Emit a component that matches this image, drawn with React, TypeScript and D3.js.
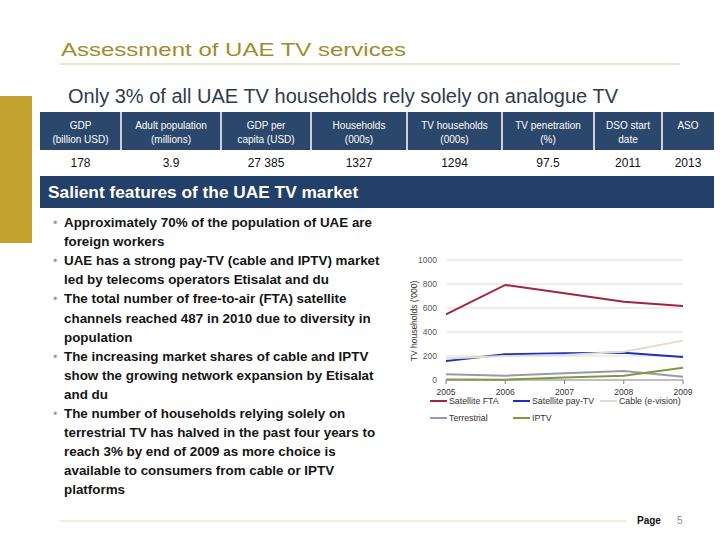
import React from "react";
import * as d3 from "d3";

const years = [2005, 2006, 2007, 2008, 2009];
const satelliteFTA = [547, 792, 722, 653, 617];
const satellitePayTV = [158, 214, 222, 228, 192];
const cable = [180, 200, 208, 236, 328];
const terrestrial = [47, 36, 56, 75, 28];
const iptv = [5, 3, 20, 36, 103];
const yTicks = [0, 200, 400, 600, 800, 1000];

const seriesNames = ["Satellite FTA", "Satellite pay-TV", "Cable (e-vision)", "Terrestrial", "IPTV"];
const seriesValues = [satelliteFTA, satellitePayTV, cable, terrestrial, iptv];
const seriesColors = ["#a3243b", "#1c2fc4", "#e4dccb", "#9a98ae", "#7f9a3c"];

const tableHeaders = [
  ["GDP", "(billion USD)"],
  ["Adult population", "(millions)"],
  ["GDP per", "capita (USD)"],
  ["Households", "(000s)"],
  ["TV households", "(000s)"],
  ["TV penetration", "(%)"],
  ["DSO start", "date"],
  ["ASO"],
];
const tableValues = ["178", "3.9", "27 385", "1327", "1294", "97.5", "2011", "2013"];
const colEdges = [40, 121, 221, 311, 407, 502, 594, 662, 714];

const bullets = [
  ["Approximately 70% of the population of UAE are", "foreign workers"],
  ["UAE has a strong pay-TV (cable and IPTV) market", "led by telecoms operators Etisalat and du"],
  ["The total number of free-to-air (FTA) satellite", "channels reached 487 in 2010 due to diversity in", "population"],
  ["The increasing market shares of cable and IPTV", "show the growing network expansion by Etisalat", "and du"],
  ["The number of households relying solely on", "terrestrial TV has halved in the past four years to", "reach 3% by end of 2009 as more choice is", "available to consumers from cable or IPTV", "platforms"],
];

const bodyFont = "'Liberation Sans', Arial, sans-serif";

export default function App() {
  const x = d3.scaleLinear().domain([2005, 2009]).range([446, 683]);
  const y = d3.scaleLinear().domain([0, 1000]).range([380, 260]);
  const line = d3.line<number>().x((_, i) => x(years[i])).y((v) => y(v));

  let lineNo = 0;
  const bulletEls: React.ReactNode[] = [];
  bullets.forEach((b, bi) => {
    b.forEach((t, li) => {
      const yy = 227 + lineNo * 19.1;
      if (li === 0)
        bulletEls.push(
          <text key={`b${bi}`} x={53} y={yy} fontSize={12} fill="#8fa6b8">•</text>
        );
      bulletEls.push(
        <text key={`t${bi}-${li}`} x={64} y={yy} fontSize={13.4} fontWeight="bold" fill="#151515" fontFamily={bodyFont}>
          {t}
        </text>
      );
      lineNo++;
    });
  });

  const legendPos = [
    [430, 401], [513, 401], [600, 401], [430, 418], [513, 418],
  ];

  return (
    <svg width={720} height={540} style={{ position: "absolute", left: 0, top: 0, background: "#fff" }} fontFamily={bodyFont}>
      <rect x={0} y={0} width={720} height={540} fill="#fff" />
      {/* Title */}
      <text x={61} y={56} fontSize={19} fill="#a08c2c" textLength={345} lengthAdjust="spacingAndGlyphs">Assessment of UAE TV services</text>
      <line x1={60} x2={680} y1={64} y2={64} stroke="#d8cc9c" strokeWidth={1} />
      <text x={68} y={103} fontSize={19.5} fill="#2f3b4c" textLength={550} lengthAdjust="spacingAndGlyphs">Only 3% of all UAE TV households rely solely on analogue TV</text>
      <rect x={0} y={96} width={32} height={147} fill="#c4a22f" />

      {/* Table */}
      <rect x={40} y={112} width={674} height={38} fill="#2c476c" />
      {colEdges.slice(1, -1).map((e) => (
        <line key={e} x1={e} x2={e} y1={112} y2={150} stroke="#fff" strokeWidth={1.5} />
      ))}
      {tableHeaders.map((h, i) => {
        const cx = (colEdges[i] + colEdges[i + 1]) / 2;
        return h.map((t, j) => (
          <text key={`h${i}-${j}`} x={cx} y={h.length === 1 ? 129 : 129 + j * 14} fontSize={10} fill="#fff" textAnchor="middle">
            {t}
          </text>
        ));
      })}
      {tableValues.map((v, i) => (
        <text key={`v${i}`} x={(colEdges[i] + colEdges[i + 1]) / 2} y={167} fontSize={12} fill="#111" textAnchor="middle">
          {v}
        </text>
      ))}
      <rect x={40} y={176} width={674} height={32} fill="#22406a" />
      <text x={48} y={198} fontSize={17.3} fontWeight="bold" fill="#fff">Salient features of the UAE TV market</text>

      {bulletEls}

      {/* Chart */}
      {yTicks.map((t) => (
        <g key={t}>
          {t > 0 && <line x1={446} x2={683} y1={y(t)} y2={y(t)} stroke="#dcdcdc" strokeWidth={1} />}
          <text x={437} y={y(t) + 3} fontSize={8.5} fill="#595959" textAnchor="end">{t}</text>
        </g>
      ))}
      <line x1={446} x2={683} y1={y(0)} y2={y(0)} stroke="#7f7f7f" strokeWidth={1} />
      {years.map((yr) => (
        <g key={yr}>
          <line x1={x(yr)} x2={x(yr)} y1={y(0)} y2={y(0) + 4} stroke="#7f7f7f" strokeWidth={1} />
          <text x={x(yr)} y={395} fontSize={8.5} fill="#333" textAnchor="middle">{yr}</text>
        </g>
      ))}
      <text transform={`translate(417,321) rotate(-90)`} fontSize={8.5} fill="#333" textAnchor="middle">
        TV households ('000)
      </text>
      {seriesValues.map((vals, i) => (
        <path key={i} d={line(vals) || ""} fill="none" stroke={seriesColors[i]} strokeWidth={2} />
      ))}
      {seriesNames.map((n, i) => (
        <g key={n}>
          <line x1={legendPos[i][0]} x2={legendPos[i][0] + 17} y1={legendPos[i][1]} y2={legendPos[i][1]} stroke={seriesColors[i]} strokeWidth={2} />
          <text x={legendPos[i][0] + 19} y={legendPos[i][1] + 3} fontSize={8.8} fill="#333">{n}</text>
        </g>
      ))}

      {/* Footer */}
      <line x1={60} x2={626} y1={521} y2={521} stroke="#e2dcaa" strokeWidth={1} />
      <text x={637} y={524} fontSize={10} fontWeight="bold" fill="#111">Page</text>
      <text x={677} y={524} fontSize={10} fill="#888">5</text>
    </svg>
  );
}
